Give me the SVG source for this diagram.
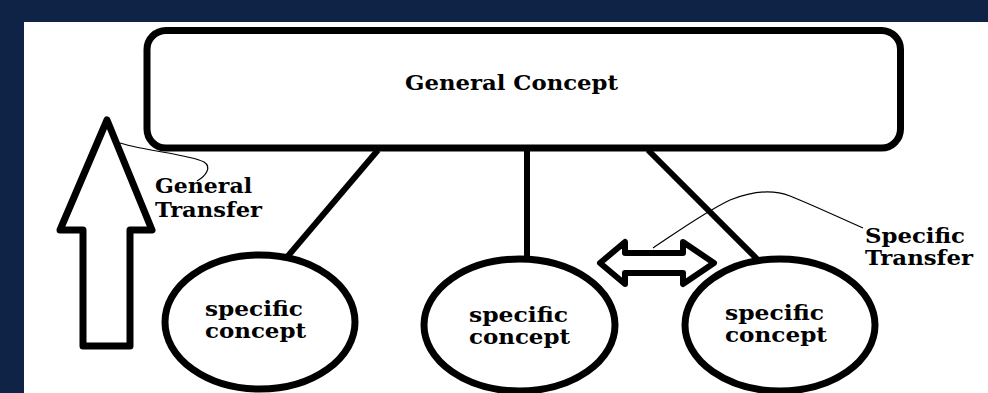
<svg xmlns="http://www.w3.org/2000/svg" width="988" height="393" viewBox="0 0 988 393">
  <style>
    .shape { fill: #ffffff; stroke: #000000; stroke-width: 7; stroke-linejoin: round; }
    .link { stroke: #000000; stroke-width: 6; fill: none; }
    .thin { stroke: #000000; stroke-width: 1.2; fill: none; }
    .lbl { font-family: "DejaVu Serif", "Liberation Serif", serif; font-weight: bold; font-size: 20px; fill: #000000; }
  </style>
  <rect x="0" y="0" width="988" height="393" fill="#0f2347"/>
  <rect x="24" y="22" width="964" height="371" fill="#ffffff"/>

  <g id="connectors">
    <line class="link" x1="378" y1="150" x2="288" y2="256"/>
    <line class="link" x1="527" y1="150" x2="527" y2="258"/>
    <line class="link" x1="648" y1="150" x2="758" y2="260"/>
    <path class="thin" d="M120,143 C150,152 188,154 204,162 C212,167 206,176 197,181"/>
    <path class="thin" d="M653,248 C680,230 705,212 730,200 C750,192 770,188 790,196 C815,206 840,218 863,228"/>
  </g>

  <g id="general-concept">
    <rect class="shape" x="147" y="30.5" width="753.5" height="117.5" rx="19" ry="19"/>
    <text class="lbl" x="405" y="90" textLength="213" lengthAdjust="spacingAndGlyphs">General Concept</text>
  </g>

  <g id="specific-concept-1">
    <ellipse class="shape" cx="260" cy="322" rx="95" ry="67"/>
    <text class="lbl" x="205" y="316" textLength="98" lengthAdjust="spacingAndGlyphs">specific</text>
    <text class="lbl" x="205" y="338" textLength="101" lengthAdjust="spacingAndGlyphs">concept</text>
  </g>

  <g id="specific-concept-2">
    <ellipse class="shape" cx="519.5" cy="325" rx="95.5" ry="66"/>
    <text class="lbl" x="469" y="322" textLength="99" lengthAdjust="spacingAndGlyphs">specific</text>
    <text class="lbl" x="469" y="344" textLength="101" lengthAdjust="spacingAndGlyphs">concept</text>
  </g>

  <g id="specific-concept-3">
    <ellipse class="shape" cx="780" cy="325" rx="95" ry="66"/>
    <text class="lbl" x="725" y="320" textLength="99" lengthAdjust="spacingAndGlyphs">specific</text>
    <text class="lbl" x="725" y="342" textLength="102" lengthAdjust="spacingAndGlyphs">concept</text>
  </g>

  <g id="general-transfer">
    <polygon class="shape" points="107,120 152,230 130,230 130,346 83,346 83,230 60,230"/>
    <text class="lbl" x="155" y="193" textLength="97" lengthAdjust="spacingAndGlyphs">General</text>
    <text class="lbl" x="155" y="217" textLength="107" lengthAdjust="spacingAndGlyphs">Transfer</text>
  </g>

  <g id="specific-transfer">
    <polygon class="shape" style="stroke-width:6" points="600,263 625,242 625,253 683,253 683,242 714,263 683,284 683,273 625,273 625,284"/>
    <text class="lbl" x="865" y="243" textLength="100" lengthAdjust="spacingAndGlyphs">Specific</text>
    <text class="lbl" x="865" y="265" textLength="108" lengthAdjust="spacingAndGlyphs">Transfer</text>
  </g>
</svg>
